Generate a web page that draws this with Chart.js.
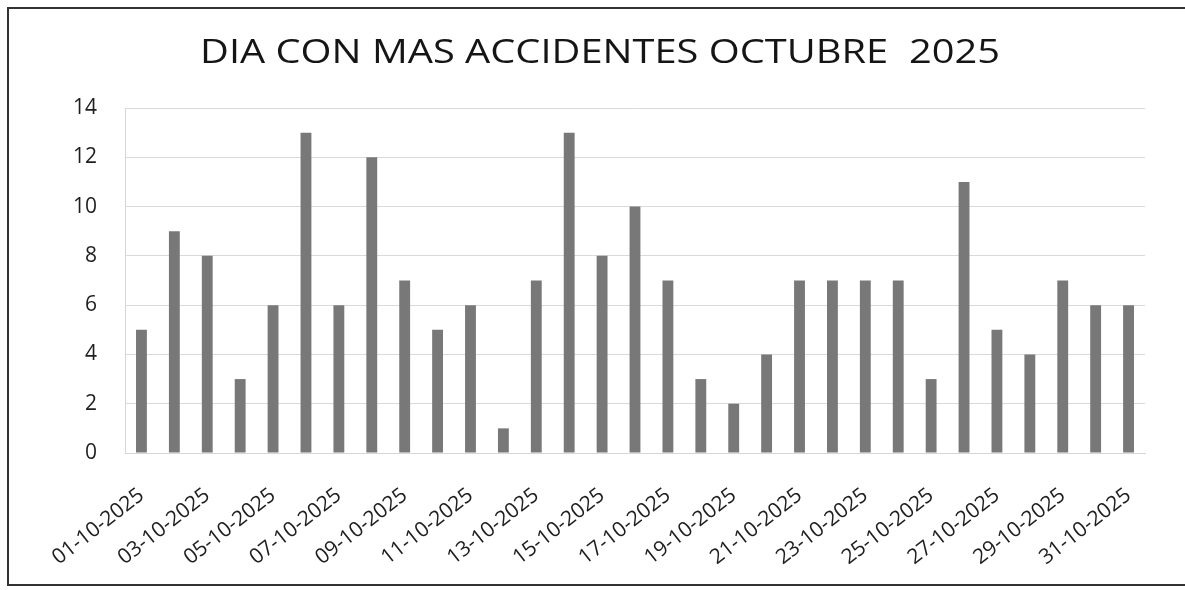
<!DOCTYPE html>
<html>
<head>
<meta charset="utf-8">
<script src="https://cdn.jsdelivr.net/npm/chart.js@4.4.1/dist/chart.umd.min.js"></script>
<style>
  html, body { margin: 0; padding: 0; background: #fff; overflow: hidden; }
  canvas { display: block; }
</style>
</head>
<body>
<canvas id="c" width="1185" height="590"></canvas>
<script>
const chartTitle = "DIA CON MAS ACCIDENTES OCTUBRE  2025";
const days = ["01-10-2025","02-10-2025","03-10-2025","04-10-2025","05-10-2025","06-10-2025","07-10-2025","08-10-2025","09-10-2025","10-10-2025","11-10-2025","12-10-2025","13-10-2025","14-10-2025","15-10-2025","16-10-2025","17-10-2025","18-10-2025","19-10-2025","20-10-2025","21-10-2025","22-10-2025","23-10-2025","24-10-2025","25-10-2025","26-10-2025","27-10-2025","28-10-2025","29-10-2025","30-10-2025","31-10-2025"];
const accidents = [5,9,8,3,6,13,6,12,7,5,6,1,7,13,8,10,7,3,2,4,7,7,7,7,3,11,5,4,7,6,6];
const yTicks = [0,2,4,6,8,10,12,14];

const decor = {
  id: 'decor',
  afterDraw(chart) {
    const ctx = chart.ctx;
    ctx.save();
    // open frame (left, top, bottom) of the photographed page
    ctx.strokeStyle = '#333';
    ctx.lineWidth = 2;
    ctx.beginPath();
    ctx.moveTo(1185, 8);
    ctx.lineTo(8, 8);
    ctx.lineTo(8, 585);
    ctx.lineTo(1185, 585);
    ctx.stroke();
    // title, horizontally stretched like the reference
    ctx.font = 'normal 32px "Open Sans"';
    ctx.fillStyle = '#151515';
    ctx.textAlign = 'center';
    ctx.textBaseline = 'middle';
    const w = ctx.measureText(chartTitle).width;
    ctx.translate(600, 54);
    ctx.scale(800 / w, 1);
    ctx.fillText(chartTitle, 0, 0);
    ctx.restore();
  }
};

new Chart(document.getElementById('c'), {
  type: 'bar',
  data: {
    labels: days,
    datasets: [{
      data: accidents,
      backgroundColor: '#787878',
      borderWidth: 0,
      barPercentage: 0.66,
      categoryPercentage: 0.5
    }]
  },
  plugins: [decor],
  options: {
    responsive: false,
    animation: false,
    layout: { padding: { left: 0, right: 40, top: 108, bottom: 0 } },
    plugins: {
      legend: { display: false },
      tooltip: { enabled: false },
      title: { display: false }
    },
    scales: {
      x: {
        grid: { display: false, drawTicks: false },
        border: { display: true, color: '#d6d6d6' },
        ticks: {
          autoSkip: false,
          maxRotation: 38,
          minRotation: 38,
          color: '#1e1e1e',
          font: { family: 'Open Sans', size: 21 },
          padding: 30,
          callback: function(v, i) { return i % 2 === 0 ? this.getLabelForValue(v) : ''; }
        },
        afterFit: function(s) { s.height = 137; }
      },
      y: {
        min: 0, max: 14,
        afterBuildTicks: function(s) { s.ticks = yTicks.map(v => ({ value: v })); },
        grid: { color: '#d9d9e0', drawTicks: false },
        border: { display: true, color: '#d6d6d6' },
        ticks: {
          color: '#1e1e1e',
          font: { family: 'Open Sans', size: 21 },
          padding: 28
        },
        afterFit: function(s) { s.width = 125; }
      }
    }
  }
});
</script>
</body>
</html>
